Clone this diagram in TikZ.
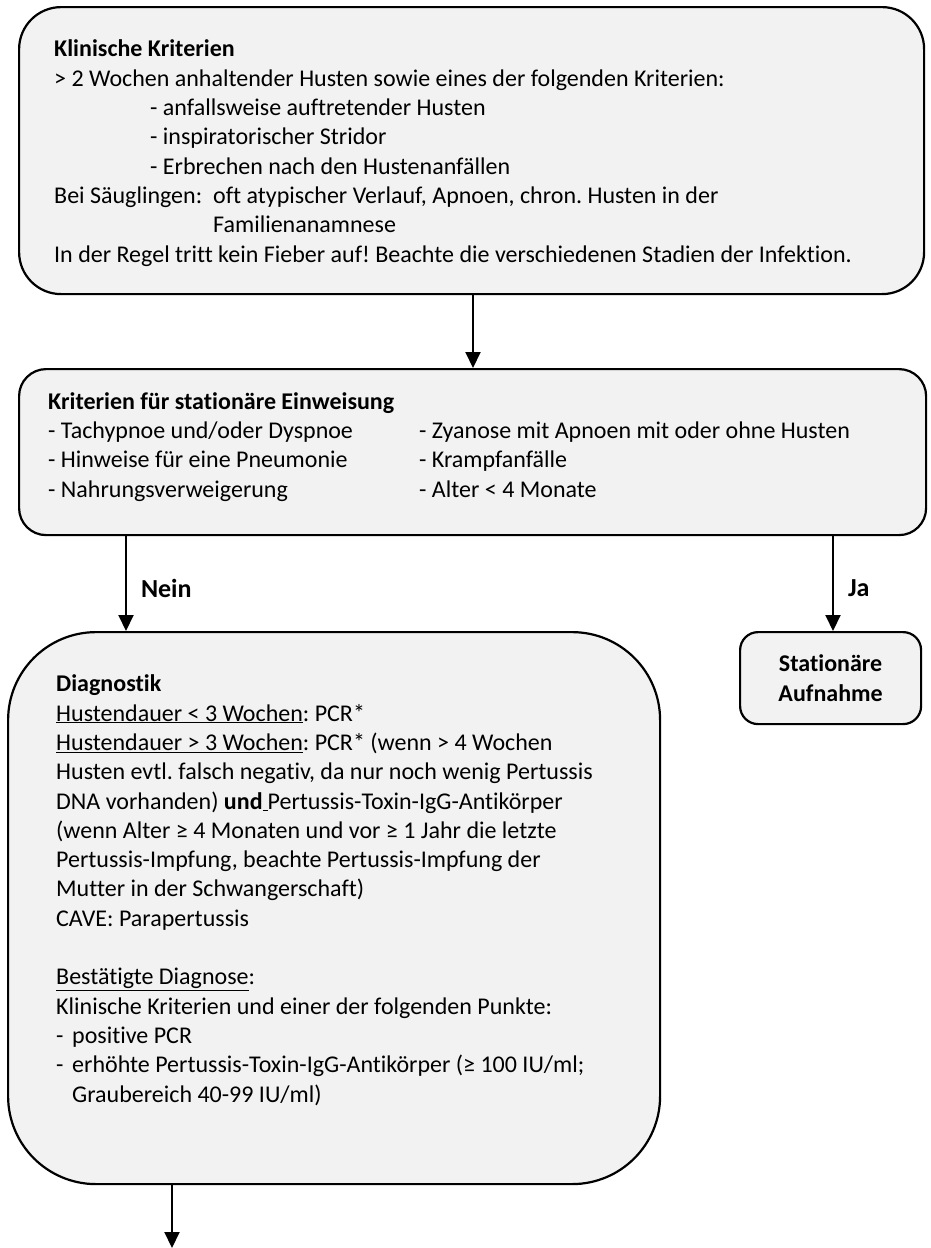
\documentclass[tikz,border=0pt]{standalone}
\usepackage{fontspec}
\setmainfont{Carlito}[Ligatures=NoCommon]
\usepackage{tikz}
\usetikzlibrary{arrows.meta,positioning,calc}
\definecolor{boxgray}{RGB}{242,242,242}
\newcommand{\boxfont}{\fontsize{24}{29.3}\selectfont\frenchspacing}
\newcommand{\lblfont}{\fontsize{26}{30}\selectfont\bfseries}

\begin{document}
\begin{tikzpicture}[x=1pt,y=-1pt, every node/.style={font=\boxfont,inner sep=0pt}, box/.style={draw,line width=2.2pt,fill=boxgray,anchor=north west}, txt/.style={align=left,anchor=base west}, arr/.style={-{Triangle[length=16pt,width=15pt]},line width=2pt}, lbl/.style={font=\lblfont,right=14pt}]
  \useasboundingbox (0,0) rectangle (930,1248);
  \node[box,rounded corners=42pt,minimum width=905pt,minimum height=287pt] (klin) at (18,6) {};
  \node[box,rounded corners=27pt,minimum width=907pt,minimum height=166pt] (stat) at (18,368) {};
  \node[box,rounded corners=88pt,minimum width=652pt,minimum height=552pt] (diag) at (7,631) {};
  \node[box,rounded corners=18pt,minimum width=181pt,minimum height=92pt,align=center,font=\boxfont\bfseries] (aufn) at (739,631) {Stationäre\\Aufnahme};
  \node[txt] (klintxt) at (54,262) {\textbf{Klinische Kriterien}\\
    > 2 Wochen anhaltender Husten sowie eines der folgenden Kriterien:\\
    \hspace*{96pt}- anfallsweise auftretender Husten\\
    \hspace*{96pt}- inspiratorischer Stridor\\
    \hspace*{96pt}- Erbrechen nach den Hustenanfällen\\
    \makebox[159pt][l]{Bei Säuglingen:}oft atypischer Verlauf, Apnoen, chron. Husten in der\\
    \hspace*{159pt}Familienanamnese\\
    In der Regel tritt kein Fieber auf! Beachte die verschiedenen Stadien der Infektion.};
  \node[txt] (stattxt) at (48,497) {\textbf{Kriterien für stationäre Einweisung}\\
    \makebox[371pt][l]{- Tachypnoe und/oder Dyspnoe}- Zyanose mit Apnoen mit oder ohne Husten\\
    \makebox[371pt][l]{- Hinweise für eine Pneumonie}- Krampfanfälle\\
    \makebox[371pt][l]{- Nahrungsverweigerung}- Alter < 4 Monate};
  \node[txt] (diagtxt) at (56,1102) {\textbf{Diagnostik}\\
    \underline{Hustendauer < 3 Wochen}: PCR*\\
    \underline{Hustendauer > 3 Wochen}: PCR* (wenn > 4 Wochen\\
    Husten evtl. falsch negativ, da nur noch wenig Pertussis\\
    DNA vorhanden) \textbf{und}\underline{\hspace{5pt}}Pertussis-Toxin-IgG-Antikörper\\
    (wenn Alter ≥ 4 Monaten und vor ≥ 1 Jahr die letzte\\
    Pertussis-Impfung, beachte Pertussis-Impfung der\\
    Mutter in der Schwangerschaft)\\
    CAVE: Parapertussis\\[29.3pt]
    \underline{Bestätigte Diagnose}:\\
    Klinische Kriterien und einer der folgenden Punkte:\\
    \makebox[16pt][l]{-}positive PCR\\
    \makebox[16pt][l]{-}erhöhte Pertussis-Toxin-IgG-Antikörper (≥ 100 IU/ml;\\
    \hspace*{16pt}Graubereich 40-99 IU/ml)};
  \coordinate (nein) at (126,0);
  \coordinate (ja) at (833,0);
  \coordinate (weiter) at (172,1248);
  \draw[arr] (klin.south -| 473,0) -- (stat.north -| 473,0);
  \draw[arr] (stat.south -| nein) -- node[lbl,pos=0.55] (neinlbl) {Nein} (diag.north -| nein);
  \draw[arr] (stat.south -| ja) -- node[lbl,pos=0.55] (jalbl) {Ja} (aufn.north -| ja);
  \draw[arr] (diag.south -| weiter) -- (weiter);
\end{tikzpicture}
\end{document}
